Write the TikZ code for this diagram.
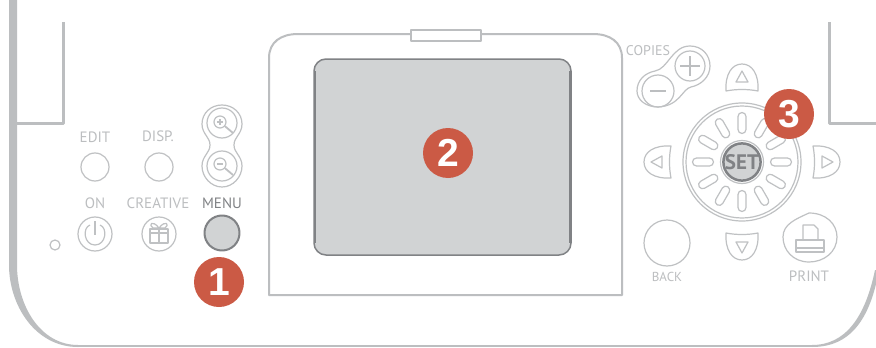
\documentclass[tikz,border=0pt]{standalone}
\usepackage{fontspec}
\setmainfont{PT Sans}
\newfontfamily\badgefont{Liberation Sans}
\usepackage{xcolor}
\usetikzlibrary{positioning, shapes.misc}
\definecolor{bodyGrey}{HTML}{BCBEC0}
\definecolor{keyGrey}{HTML}{BFC1C3}
\definecolor{darkGrey}{HTML}{808285}
\definecolor{screenGrey}{HTML}{D1D3D4}
\definecolor{badgeRed}{HTML}{CB5A45}
\begin{document}
\begin{tikzpicture}[x=1pt, y=-1pt, line join=round,
    body/.style={draw=bodyGrey, line width=3pt},
    key/.style={draw=keyGrey, line width=1.2pt},
    roundkey/.style={circle, key, inner sep=0pt, minimum size=#1},
    slot/.style={rounded rectangle, key, inner sep=0pt, minimum width=21pt, minimum height=8pt},
    lbl/.style={font=\fontsize{15}{15}\selectfont, text=bodyGrey, inner sep=0pt},
    badge/.style={circle, fill=badgeRed, inner sep=0pt, minimum size=50pt, text=white,
      font=\badgefont\bfseries\fontsize{39}{39}\selectfont},
    arrowkey/.pic={
      \draw[key] (-16,-71) .. controls (-17,-88) and (-10,-98) .. (0,-98)
        .. controls (10,-98) and (17,-88) .. (16,-71)
        .. controls (6,-73) and (-6,-73) .. cycle;
      \draw[key] (-6,-80) -- (6,-80) -- (0,-91) -- cycle;
    }]
  \useasboundingbox (0,0) rectangle (876,348);
  \fill[white] (0,0) rectangle (876,348);

  % housing
  \fill[bodyGrey] (9,0) -- (9,265) .. controls (9,305) and (35,347) .. (78,347)
    -- (78,345) .. controls (40,345) and (17,305) .. (17,265) -- (17,0) -- cycle;
  \fill[bodyGrey] (812,347) .. controls (850,347) and (870,320) .. (879,270)
    -- (875,270) .. controls (865,318) and (845,345) .. (812,345) -- cycle;
  \draw[body, line width=2pt] (75,346) -- (815,346);
  \draw[body] (17,123) -- (63,123) -- (63,22);
  \draw[body] (829,22) -- (829,123) -- (876,123);

  % screen
  \draw[body, line width=2pt] (410,34) -- (298,34) .. controls (281,34) and (269,42) .. (269,58)
    -- (269,295) -- (622,295) -- (622,58) .. controls (622,42) and (610,34) .. (593,34) -- (481,34);
  \node[draw=bodyGrey, line width=2pt, fill=white, minimum width=70pt, minimum height=11pt, inner sep=0pt] (tab) at (445.5,35) {};
  \node[draw=darkGrey, line width=1.5pt, fill=screenGrey, rounded corners=12pt, inner sep=0pt,
    minimum width=257pt, minimum height=196pt] (screen) at (442.5,157) {};
  \draw[darkGrey, line width=2.5pt] (315,71) -- (315,243);
  \draw[darkGrey, line width=3pt] (570,71) -- (570,243);

  % left keys
  \node[roundkey=28pt] (edit) at (95,167) {};
  \node[roundkey=28pt] (disp) at (159,167) {};
  \node[roundkey=34pt] (on) at (95,234) {};
  \node[roundkey=34pt] (creative) at (159,234) {};
  \node[circle, draw=darkGrey, line width=2pt, fill=screenGrey, inner sep=0pt, minimum size=35pt] (menu) at (222,233) {};
  \node[roundkey=10pt] (led) at (55,245) {};
  \node[lbl] (editlbl) at (95,137) {EDIT};
  \node[lbl] (displbl) at (158,136.5) {DISP.};
  \node[lbl] (onlbl) at (95,203) {ON};
  \node[lbl] (creativelbl) at (158,203) {CREATIVE};
  \node[lbl, text=darkGrey] (menulbl) at (222,203) {MENU};
  \draw[key] (90,225) .. controls (82,228) and (84,245) .. (95,245) .. controls (106,245) and (108,228) .. (100,225);
  \draw[key] (95,221) -- (95,235);
  \draw[key] (150,229) rectangle (168,243);
  \draw[key] (150,233) -- (168,233);
  \draw[key] (159,229) -- (159,243);
  \draw[key] (159,228) .. controls (152,219) and (148,225) .. (153,228) -- (159,228)
    .. controls (166,219) and (170,225) .. (165,228) -- (159,228);

  % zoom keys
  \draw[key] (222,105) .. controls (233,105) and (242,113) .. (242,124) .. controls (242,134) and (234,137) .. (234,145)
    .. controls (234,153) and (242,156) .. (242,166) .. controls (242,177) and (233,187) .. (222,187)
    .. controls (211,187) and (202,177) .. (202,166) .. controls (202,156) and (210,153) .. (210,145)
    .. controls (210,137) and (202,134) .. (202,124) .. controls (202,113) and (211,105) .. (222,105) -- cycle;
  \node[roundkey=30pt] (zoomin) at (222,123) {};
  \node[roundkey=30pt] (zoomout) at (222,166) {};
  \node[roundkey=12pt] (zoominlens) at (220,122) {};
  \node[roundkey=12pt] (zoomoutlens) at (220,164) {};
  \draw[key, line width=1.8pt] (zoominlens) -- (233,133);
  \draw[key, line width=1.8pt] (zoomoutlens) -- (233,175);
  \draw[key] (217,122) -- (223,122) (220,119) -- (220,125);
  \draw[key] (217,164) -- (223,164);

  % copies
  \draw[key] (690,46) .. controls (702,46) and (710,55) .. (710,66) .. controls (710,77) and (701,85) .. (691,87)
    .. controls (682,89) and (680,106) .. (658,107) .. controls (646,107) and (637,100) .. (637,91)
    .. controls (637,80) and (645,73) .. (655,71) .. controls (668,69) and (672,46) .. (690,46) -- cycle;
  \node[roundkey=30pt] (plus) at (690,66) {};
  \node[roundkey=32pt] (minus) at (658,91) {};
  \draw[bodyGrey, line width=2.5pt] (680,66) -- (700,66) (690,56) -- (690,76);
  \draw[bodyGrey, line width=2.5pt] (650,91) -- (666,91);
  \node[lbl, font=\fontsize{14}{14}\selectfont] (copieslbl) at (648,51) {COPIES};

  % wheel
  \node[roundkey=118pt] (wheel) at (742,162) {};
  \node[roundkey=112pt] (wheelinner) at (wheel) {};
  \begin{scope}[shift={(wheel)}]
    \foreach \a in {0,30,...,330}
      \node[slot, rotate=-\a] (slot\a) at (\a:39) {};
  \end{scope}
  \node[roundkey=43pt] (setring) at (wheel) {};
  \node[circle, draw=darkGrey, line width=2.5pt, fill=screenGrey, inner sep=0pt, minimum size=36pt,
    text=darkGrey, font=\fontsize{21}{21}\selectfont\bfseries] (set) at (wheel) {SET};

  \pic at (wheel) {arrowkey};
  \pic[rotate=90] at (wheel) {arrowkey};
  \pic[rotate=180] at (wheel) {arrowkey};
  \pic[rotate=-90] at (wheel) {arrowkey};

  % back, print
  \node[roundkey=46pt] (back) at (667,243) {};
  \node[lbl, font=\fontsize{13}{13}\selectfont] (backlbl) at (667,277) {BACK};
  \draw[key] (809,213) .. controls (826,213) and (837,224) .. (837,237) .. controls (837,252) and (824,262) .. (809,262)
    .. controls (793,262) and (783,250) .. (783,237) .. controls (783,224) and (796,219) .. (809,213) -- cycle;
  \draw[key] (803,240) -- (803,225) -- (814,225) -- (818,229) -- (818,240);
  \draw[key] (796,252) -- (796,240) -- (824,240) -- (824,252) -- cycle;
  \draw[key] (796,248) -- (824,248);
  \node[lbl] (printlbl) at (809,276) {PRINT};

  % badges
  \node[badge] (one) at (219,282) {1};
  \node[badge] (two) at (448,153) {2};
  \node[badge] (three) at (789,114) {3};
\end{tikzpicture}
\end{document}
